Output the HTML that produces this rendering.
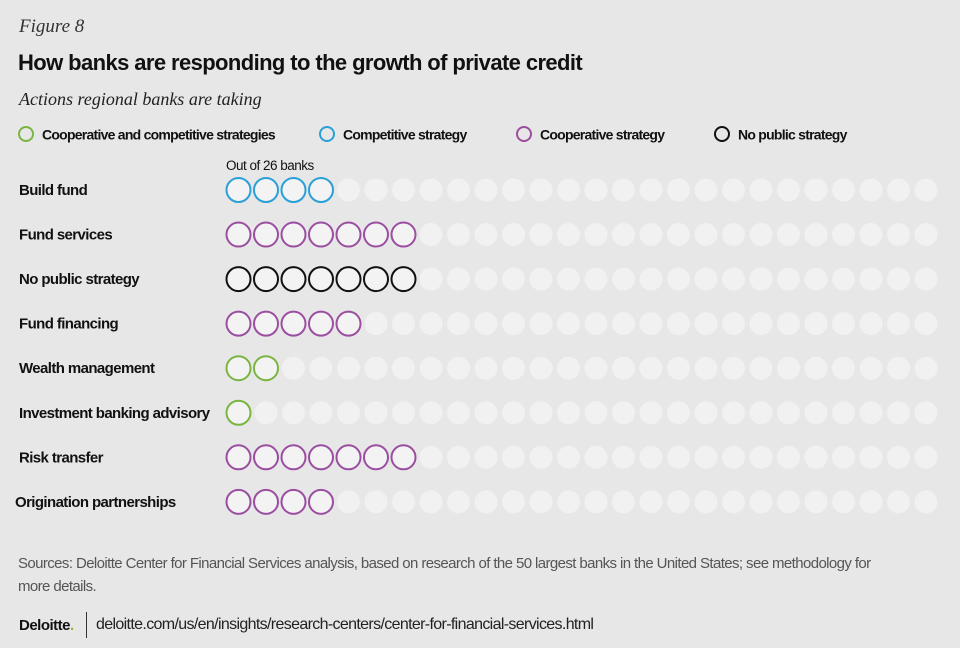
<!DOCTYPE html>
<html><head><meta charset="utf-8"><style>
body{margin:0;background:#e7e7e8;font-family:"Liberation Sans",sans-serif;}
#wrap{position:relative;width:960px;height:648px;overflow:hidden;background:#e7e7e8;}
.t{position:absolute;white-space:nowrap;color:#111;}
</style></head><body>
<div id="wrap">
<div class="t" style="left:19px;top:16px;font-family:'Liberation Serif',serif;font-style:italic;font-size:19px;color:#333">Figure 8</div>
<div class="t" style="left:18px;top:50px;font-weight:bold;font-size:22px;letter-spacing:-0.6px">How banks are responding to the growth of private credit</div>
<div class="t" style="left:19px;top:89px;font-family:'Liberation Serif',serif;font-style:italic;font-size:18px;color:#222">Actions regional banks are taking</div>
<svg id="svg" width="960" height="648" style="position:absolute;left:0;top:0"></svg>
<div class="t" style="left:18px;top:552px;font-size:15px;color:#555;line-height:23px;white-space:normal;width:880px;letter-spacing:-0.6px">Sources: Deloitte Center for Financial Services analysis, based on research of the 50 largest banks in the United States; see methodology for more details.</div>
<div class="t" style="left:19px;top:617px;font-weight:bold;font-size:15px;letter-spacing:-0.5px">Deloitte<span style="color:#86bc25">.</span></div>
<div style="position:absolute;left:86px;top:612px;width:1px;height:26px;background:#333"></div>
<div class="t" style="left:96px;top:616px;font-size:16px;color:#222;letter-spacing:-0.65px">deloitte.com/us/en/insights/research-centers/center-for-financial-services.html</div>
</div>
<script>
const categories=["Build fund","Fund services","No public strategy","Fund financing","Wealth management","Investment banking advisory","Risk transfer","Origination partnerships"];
const counts=[4,7,7,5,2,1,7,4];
const strategies=["competitive","cooperative","none","cooperative","both","both","cooperative","cooperative"];
const total=26;
const legendLabels=["Cooperative and competitive strategies","Competitive strategy","Cooperative strategy","No public strategy"];
const legendKeys=["both","competitive","cooperative","none"];
const colors={both:"#7ab540",competitive:"#2aa0d6",cooperative:"#9b4ea0",none:"#111"};
const NS="http://www.w3.org/2000/svg";
const svg=document.getElementById('svg');
const xDot=i=>238.5+i*27.5;
const yRow=r=>190+r*44.55;
function mk(tag,attrs){const e=document.createElementNS(NS,tag);for(const k in attrs)e.setAttribute(k,attrs[k]);svg.appendChild(e);return e;}
const legendX=[26,327,524,722];
legendKeys.forEach((k,i)=>{
  const c=mk('circle',{cx:legendX[i],cy:134,r:7,fill:'none',stroke:colors[k],'stroke-width':2});
  
  
  const t=mk('text',{x:legendX[i]+16,y:139.5,'font-size':14,'font-weight':'bold','font-family':'Liberation Sans, sans-serif',fill:'#111','letter-spacing':'-0.75'});
  t.textContent=legendLabels[i];
  
  
});
const sub=mk('text',{x:226,y:170,'font-size':13.5,'font-family':'Liberation Sans, sans-serif',fill:'#111','letter-spacing':'-0.5'});
sub.textContent="Out of "+total+" banks";


categories.forEach((cat,r)=>{
  const t=mk('text',{x:r==7?15:19,y:yRow(r)+5,'font-size':15,'font-weight':'bold','font-family':'Liberation Sans, sans-serif',fill:'#111','letter-spacing':'-0.6'});
  t.textContent=cat;
  
  
  for(let i=0;i<total;i++){
    let c;
    if(i<counts[r]) c=mk('circle',{cx:xDot(i),cy:yRow(r),r:12,fill:'#f3f3f4',stroke:colors[strategies[r]],'stroke-width':2});
    else c=mk('circle',{cx:xDot(i),cy:yRow(r),r:11.5,fill:'#f1f1f2'});
    
    
  }
});
</script>
</body></html>
